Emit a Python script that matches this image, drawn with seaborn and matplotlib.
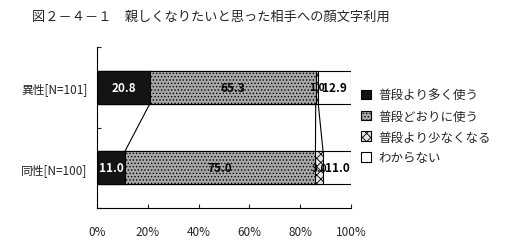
import numpy as np
import pandas as pd
import matplotlib
matplotlib.use("Agg")
import matplotlib.pyplot as plt
from matplotlib.patches import Patch
import seaborn as sns

categories = ['異性[N=101]', '同性[N=100]']
series_names = ['普段より多く使う', '普段どおりに使う', '普段より少なくなる', 'わからない']
more = [20.8, 11.0]
same = [65.3, 75.0]
less = [1.0, 3.0]
unknown = [12.9, 11.0]
xticks = [0, 20, 40, 60, 80, 100]
xticklabels = ['0%', '20%', '40%', '60%', '80%', '100%']
title = '図２－４－１　親しくなりたいと思った相手への顔文字利用'

sns.set_style('white')
plt.rcParams['font.family'] = ['Noto Sans CJK JP', 'DejaVu Sans']
plt.rcParams['hatch.linewidth'] = 0.6

fig = plt.figure(figsize=(5.06, 2.53), dpi=100)
ax = fig.add_axes([97/506, 1-209/253, 254/506, 161/253])

vals = np.array([more, same, less, unknown])  # series x categories
cum = np.cumsum(vals, axis=0)

faces = ['#141414', '#a8a8a8', '#e4e4e4', 'white']
hatches = [None, '.....', 'xxxx', None]
bw = 0.41
# draw from total downwards so each segment overlays the previous
for i in range(3, -1, -1):
    df = pd.DataFrame({'cat': categories, 'val': cum[i]})
    kw = dict(hatch=hatches[i]) if hatches[i] else {}
    sns.barplot(data=df, x='val', y='cat', orient='h', color=faces[i],
                saturation=1, edgecolor='black', linewidth=0.8, width=bw,
                ax=ax, **kw)

# bar labels
for i in range(4):
    for j in range(2):
        left = cum[i, j] - vals[i, j]
        xc = left + vals[i, j] / 2
        col = 'white' if i == 0 else 'black'
        fs = 8.5 if vals[i, j] >= 5 else 7.5
        ax.text(xc, j, f'{vals[i, j]:.1f}', ha='center', va='center',
                fontsize=fs, fontweight='bold', color=col, zorder=5)

# series lines
for i in range(3):
    ax.plot([cum[i, 0], cum[i, 1]], [bw/2, 1 - bw/2], color='black', lw=0.8, zorder=4)

ax.set_xlim(0, 100)
ax.set_ylim(1.5, -0.5)
ax.set_xticks(xticks)
ax.set_xticklabels(xticklabels, fontsize=8.5)
ax.set_xlabel('')
ax.set_ylabel('')
ax.set_yticks([0, 1])
ax.set_yticklabels(categories, fontsize=8.5)
ax.set_yticks([-0.5, 0.5, 1.5], minor=True)
ax.tick_params(axis='y', which='major', length=0, pad=7)
ax.tick_params(axis='y', which='minor', length=3, direction='in', width=0.8, left=True)
ax.tick_params(axis='x', length=3, direction='in', width=0.8, bottom=True, pad=12)
for s in ['top', 'right']:
    ax.spines[s].set_visible(False)
for s in ['left', 'bottom']:
    ax.spines[s].set_visible(True)
    ax.spines[s].set_color('black')
    ax.spines[s].set_linewidth(0.8)

handles = [Patch(facecolor=faces[i], edgecolor='black', linewidth=0.8,
                 hatch=hatches[i]) for i in range(4)]
fig.legend(handles, series_names, loc='upper left', bbox_to_anchor=(361/506, 1-90/253),
           frameon=False, fontsize=9, handlelength=0.8, handleheight=0.8,
           handletextpad=0.6, labelspacing=0.62, borderaxespad=0, borderpad=0)

fig.text(32/506, 1-17/253, title, fontsize=9.5, ha='left', va='center')

fig.savefig('out.png', dpi=100)
